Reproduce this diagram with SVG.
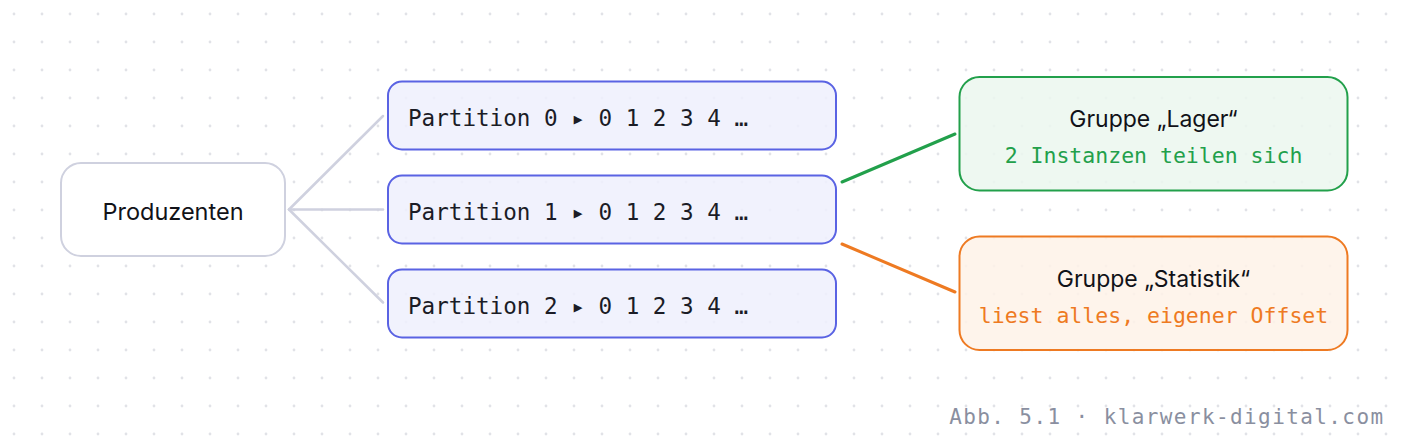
<svg xmlns="http://www.w3.org/2000/svg" width="1408" height="446" viewBox="0 0 1408 446">
  <defs>
    <pattern id="dots" x="0" y="0" width="28" height="28" patternUnits="userSpaceOnUse">
      <circle cx="14" cy="14" r="1.4" fill="#e1e2e7"/>
    </pattern>
    <style>
      .sans { font-family: Inter, "Liberation Sans", sans-serif; fill: #111218; }
      .mono { font-family: "DejaVu Sans Mono", "Liberation Mono", monospace; }
      .part rect { fill: #eef0fd; fill-opacity: 0.85; stroke: #5a63e3; stroke-width: 2; }
      .part text { font-size: 22.6px; fill: #1b1c26; }
      .conn { fill: none; stroke-linecap: round; }
    </style>
  </defs>
  <rect width="1408" height="446" fill="#ffffff"/>
  <rect width="1408" height="446" fill="url(#dots)"/>

  <g id="connectors">
    <line class="conn" x1="289" y1="209.5" x2="383" y2="116" stroke="#cfd1df" stroke-width="2.5"/>
    <line class="conn" x1="289" y1="209.5" x2="383" y2="209.5" stroke="#cfd1df" stroke-width="2.5"/>
    <line class="conn" x1="289" y1="209.5" x2="383" y2="302.5" stroke="#cfd1df" stroke-width="2.5"/>
    <line class="conn" x1="842" y1="182" x2="955" y2="134" stroke="#22a04b" stroke-width="3"/>
    <line class="conn" x1="842" y1="244" x2="955" y2="292" stroke="#ee7a22" stroke-width="3"/>
  </g>

  <g id="produzenten">
    <rect x="61" y="163" width="224" height="93" rx="20" fill="#ffffff" stroke="#cfd1df" stroke-width="2"/>
    <text class="sans" x="173" y="220" font-size="23.5" text-anchor="middle">Produzenten</text>
  </g>

  <g id="partition0" class="part">
    <rect x="388" y="81.5" width="448" height="68" rx="14"/>
    <text class="mono" x="408" y="126">Partition 0 ▸ 0 1 2 3 4 …</text>
  </g>
  <g id="partition1" class="part">
    <rect x="388" y="175.5" width="448" height="68" rx="14"/>
    <text class="mono" x="408" y="220">Partition 1 ▸ 0 1 2 3 4 …</text>
  </g>
  <g id="partition2" class="part">
    <rect x="388" y="269.5" width="448" height="68" rx="14"/>
    <text class="mono" x="408" y="314">Partition 2 ▸ 0 1 2 3 4 …</text>
  </g>

  <g id="gruppe-lager">
    <rect x="959.5" y="77" width="388" height="113.5" rx="20" fill="#ebf7ee" fill-opacity="0.85" stroke="#22a04b" stroke-width="2"/>
    <text class="sans" x="1153.5" y="126.5" font-size="23" text-anchor="middle">Gruppe „Lager“</text>
    <text class="mono" x="1153.5" y="163" font-size="21.5" text-anchor="middle" fill="#22a04b">2 Instanzen teilen sich</text>
  </g>

  <g id="gruppe-statistik">
    <rect x="959.5" y="236.5" width="388" height="113.5" rx="20" fill="#fef2e8" fill-opacity="0.85" stroke="#ee7a22" stroke-width="2"/>
    <text class="sans" x="1153.5" y="286.5" font-size="23" text-anchor="middle">Gruppe „Statistik“</text>
    <text class="mono" x="1153.5" y="323" font-size="21.5" text-anchor="middle" fill="#ee7a22">liest alles, eigener Offset</text>
  </g>

  <text class="mono" x="1384.5" y="424" font-size="21" letter-spacing="1.4" text-anchor="end" fill="#8a8fa0">Abb. 5.1 · klarwerk-digital.com</text>
</svg>
